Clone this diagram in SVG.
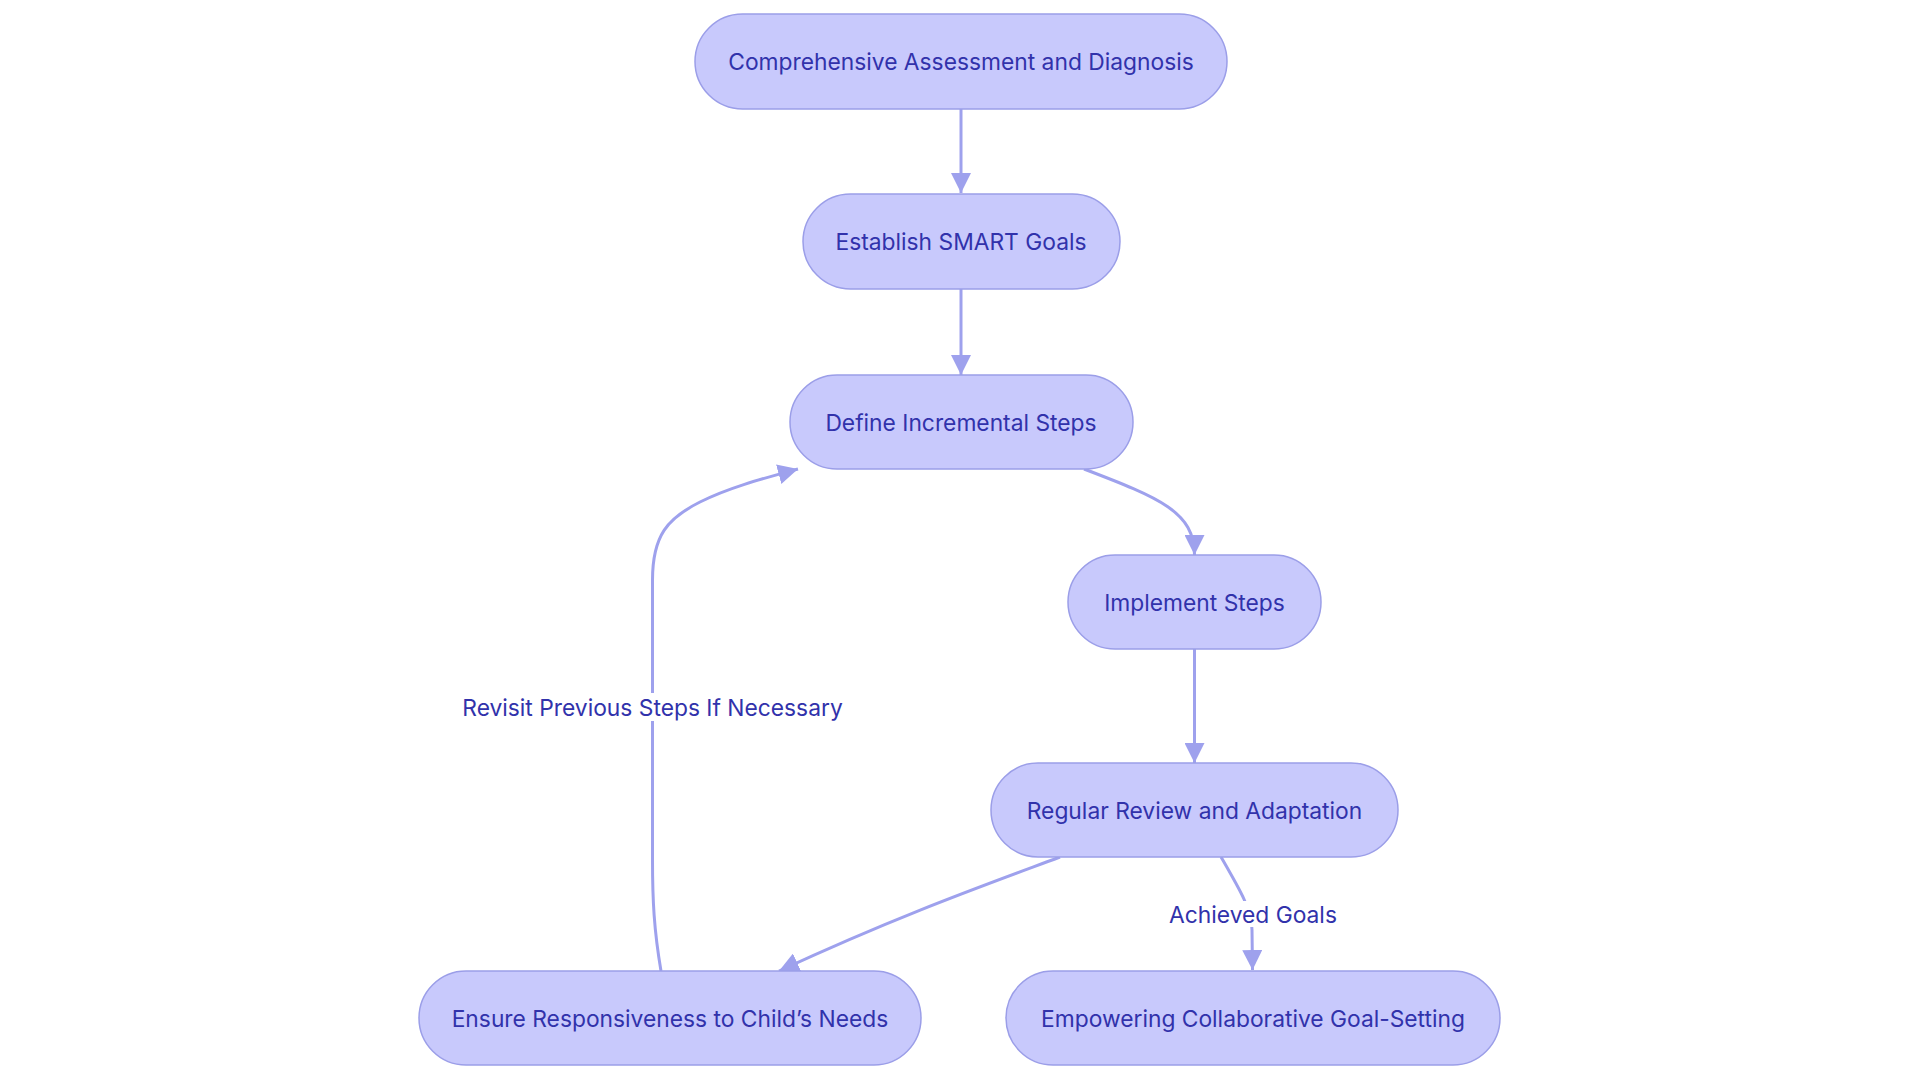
<svg xmlns="http://www.w3.org/2000/svg" width="1920" height="1080" viewBox="0 0 1920 1080">
<style>
.node rect{fill:#c8c9fc;stroke:#9b9ee8;stroke-width:1.5}
.node text,.lbl text{font-family:Inter,"Liberation Sans",sans-serif;font-size:22.8px;fill:#3132ab;text-anchor:middle;dominant-baseline:central}
.edge{fill:none;stroke:#9ea1ed;stroke-width:3;marker-end:url(#arr)}
.lbl rect{fill:#ffffff}
</style>
<defs>
<marker id="arr" markerUnits="userSpaceOnUse" markerWidth="20" markerHeight="20" refX="20" refY="10" orient="auto" viewBox="0 0 20 20">
<path d="M0,0 L20,10 L0,20 z" fill="#9ea1ed"/>
</marker>
</defs>
<rect width="1920" height="1080" fill="#ffffff"/>
<g id="connectors">
<path class="edge" d="M961,109 L961,193"/>
<path class="edge" d="M961,289 L961,375"/>
<path class="edge" d="M1084,469 C1160,498 1194.5,512 1194.5,555"/>
<path class="edge" d="M1194.5,649 L1194.5,763"/>
<path class="edge" d="M1060,857 C985,885 900,915 779,971"/>
<path class="edge" d="M1221,857 C1240,890 1252,910 1252,930 L1252.5,970"/>
<path class="edge" d="M661,971 C654,930 652.5,900 652.5,860 L652.5,580 C652.5,535 668,518 700,502 C730,487 765,478 798,469"/>
<g class="lbl" id="label-revisit">
<rect x="458" y="693" width="390" height="28"/>
<text x="652.5" y="707">Revisit Previous Steps If Necessary</text>
</g>
<g class="lbl" id="label-achieved">
<rect x="1165" y="901" width="176" height="26"/>
<text x="1253" y="914">Achieved Goals</text>
</g>
</g>
<g id="n1" class="node"><rect x="695" y="14" width="532" height="95" rx="47.5"/><text x="961" y="61.5">Comprehensive Assessment and Diagnosis</text></g>
<g id="n2" class="node"><rect x="803" y="194" width="317" height="95" rx="47.5"/><text x="961" y="241.5">Establish SMART Goals</text></g>
<g id="n3" class="node"><rect x="790" y="375" width="343" height="94" rx="47"/><text x="961" y="422">Define Incremental Steps</text></g>
<g id="n4" class="node"><rect x="1068" y="555" width="253" height="94" rx="47"/><text x="1194.5" y="602">Implement Steps</text></g>
<g id="n5" class="node"><rect x="991" y="763" width="407" height="94" rx="47"/><text x="1194.5" y="810">Regular Review and Adaptation</text></g>
<g id="n6" class="node"><rect x="419" y="971" width="502" height="94" rx="47"/><text x="670" y="1018">Ensure Responsiveness to Child’s Needs</text></g>
<g id="n7" class="node"><rect x="1006" y="971" width="494" height="94" rx="47"/><text x="1253" y="1018">Empowering Collaborative Goal-Setting</text></g>
</svg>
